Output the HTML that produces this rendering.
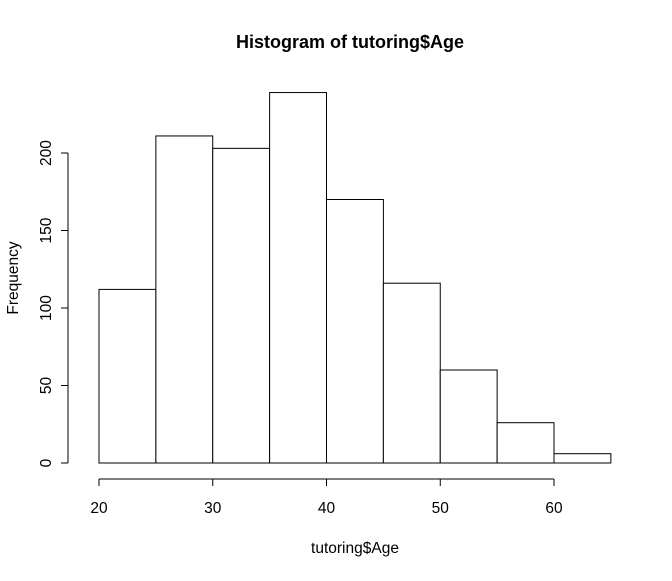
<!DOCTYPE html>
<html><head><meta charset="utf-8"><style>
html,body{margin:0;padding:0;background:#fff;}
svg text{font-family:"Liberation Sans",Arial,sans-serif;fill:#000;}
</style></head><body>
<svg id="chart" width="672" height="576" viewBox="0 0 672 576" xmlns="http://www.w3.org/2000/svg">
<rect width="672" height="576" fill="#fff"/>
<text x="350" y="48" text-anchor="middle" font-size="18" font-weight="bold">Histogram of tutoring$Age</text>
<text x="355" y="553" text-anchor="middle" font-size="15.5">tutoring$Age</text>
<text transform="translate(18,278) rotate(-90)" text-anchor="middle" font-size="15.5">Frequency</text>
<g id="bars"></g>
<g id="xaxis"></g>
<g id="yaxis"></g>
</svg>
<script>
const binStarts = [20, 25, 30, 35, 40, 45, 50, 55, 60];
const binWidth = 5;
const counts = [112, 211, 203, 239, 170, 116, 60, 26, 6];
const xTicks = [20, 30, 40, 50, 60];
const yTicks = [0, 50, 100, 150, 200];

const NS = "http://www.w3.org/2000/svg";
function xs(v){ return 99 + (v - 20) * 11.375; }
function ys(v){ return 463 - v * 1.55; }
function mk(tag, attrs, parent){
  const e = document.createElementNS(NS, tag);
  for (const k in attrs) e.setAttribute(k, attrs[k]);
  parent.appendChild(e);
  return e;
}
const bars = document.getElementById('bars');
binStarts.forEach((s, i) => {
  const x0 = xs(s), x1 = xs(s + binWidth), y = ys(counts[i]);
  const r = mk('rect', {x: x0, y: y, width: x1 - x0, height: ys(0) - y, fill: '#fff', stroke: '#000', 'stroke-width': 1}, bars);
  
  
});
const xa = document.getElementById('xaxis');
mk('line', {x1: xs(xTicks[0]), x2: xs(xTicks[xTicks.length-1]), y1: 479, y2: 479, stroke: '#000'}, xa);
xTicks.forEach(t => {
  mk('line', {x1: xs(t), x2: xs(t), y1: 479, y2: 486, stroke: '#000'}, xa);
  const tx = mk('text', {x: xs(t), y: 513, 'text-anchor': 'middle', 'font-size': 15.5}, xa);
  tx.textContent = t;
  
  
});
const ya = document.getElementById('yaxis');
mk('line', {x1: 68, x2: 68, y1: ys(yTicks[0]), y2: ys(yTicks[yTicks.length-1]), stroke: '#000'}, ya);
yTicks.forEach(t => {
  mk('line', {x1: 61, x2: 68, y1: ys(t), y2: ys(t), stroke: '#000'}, ya);
  const tx = mk('text', {transform: 'translate(51,' + ys(t) + ') rotate(-90)', 'text-anchor': 'middle', 'font-size': 15.5}, ya);
  tx.textContent = t;
  
  
});
</script>
</body></html>
